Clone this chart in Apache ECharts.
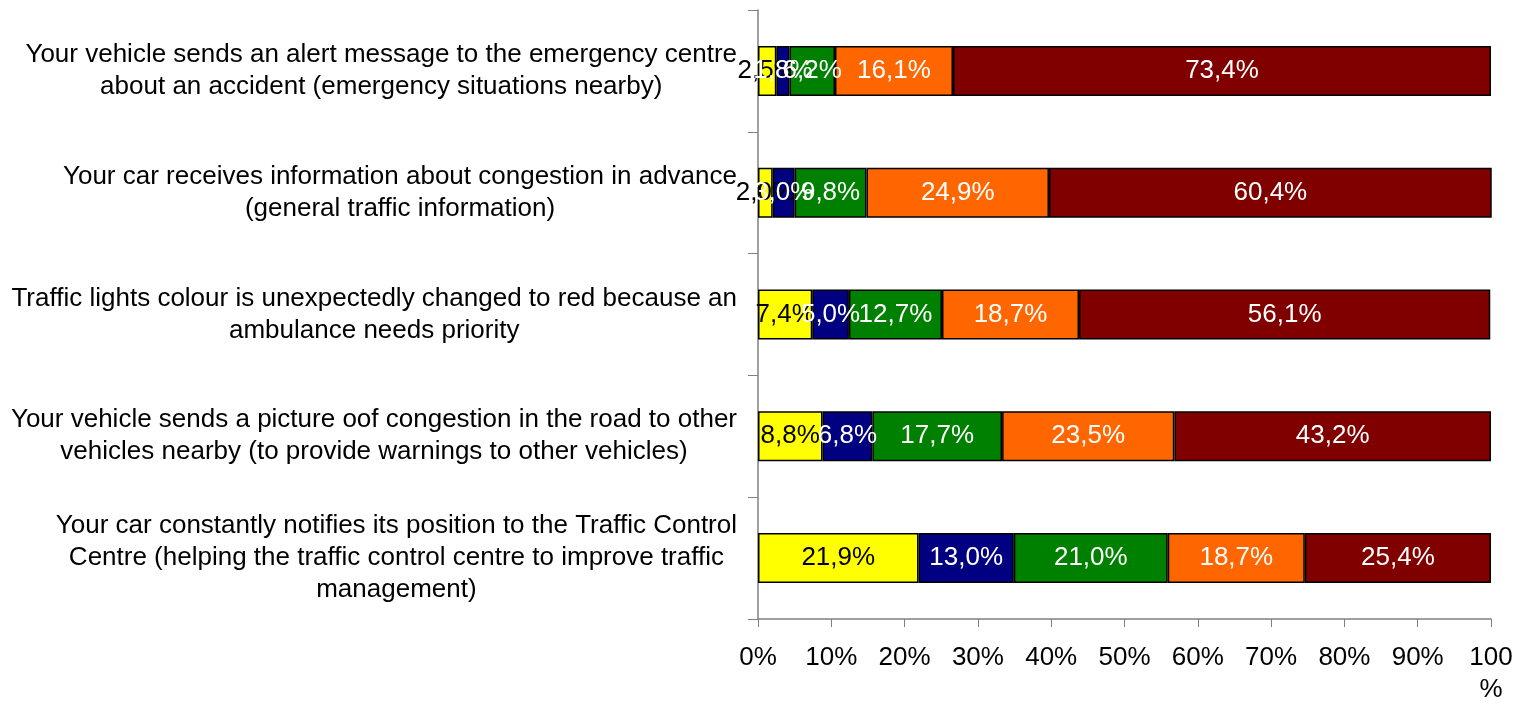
<!DOCTYPE html>
<html>
<head>
<meta charset="utf-8">
<script src="https://cdn.jsdelivr.net/npm/echarts@6/dist/echarts.min.js"></script>
<style>
  html, body { margin: 0; padding: 0; background: #fff; }
  #chart { width: 1517px; height: 706px; }
</style>
</head>
<body>
<div id="chart"></div>
<script>
// categories (top to bottom)
var categories = [
    'Your vehicle sends an alert message to the emergency centre\nabout an accident (emergency situations nearby)',
    'Your car receives information about congestion in advance\n(general traffic information)',
    'Traffic lights colour is unexpectedly changed to red because an\nambulance needs priority',
    'Your vehicle sends a picture oof congestion in the road to other\nvehicles nearby (to provide warnings to other vehicles)',
    'Your car constantly notifies its position to the Traffic Control\nCentre (helping the traffic control centre to improve traffic\nmanagement)'
];
// share of answers per category, in %
var yellowVals = [2.5, 2.0, 7.4, 8.8, 21.9];
var blueVals   = [1.8, 3.0, 5.0, 6.8, 13.0];
var greenVals  = [6.2, 9.8, 12.7, 17.7, 21.0];
var orangeVals = [16.1, 24.9, 18.7, 23.5, 18.7];
var redVals    = [73.4, 60.4, 56.1, 43.2, 25.4];
var xTicks = [0, 10, 20, 30, 40, 50, 60, 70, 80, 90, 100];

var font = 'Liberation Sans, Arial, sans-serif';

function pct(p) {
    return p.value.toFixed(1).replace('.', ',') + '%';
}

function mkSeries(name, data, color, labelColor) {
    return {
        name: name,
        type: 'bar',
        stack: 'total',
        barWidth: 50,
        data: data,
        itemStyle: { color: color, borderColor: '#000', borderWidth: 1.5 },
        label: {
            show: true,
            position: 'inside',
            color: labelColor,
            fontSize: 26,
            fontFamily: font,
            formatter: pct
        }
    };
}

var chart = echarts.init(document.getElementById('chart'));
chart.setOption({
    animation: false,
    backgroundColor: '#fff',
    grid: { left: 758, right: 26, top: 10, bottom: 84 },
    xAxis: {
        type: 'value',
        min: xTicks[0],
        max: xTicks[xTicks.length - 1],
        interval: 10,
        splitLine: { show: false },
        axisLine: { show: true, lineStyle: { color: '#808080', width: 1.5 } },
        axisTick: { show: true, length: 8, lineStyle: { color: '#808080' } },
        axisLabel: {
            color: '#000',
            fontSize: 26,
            fontFamily: font,
            margin: 23,
            lineHeight: 32,
            formatter: function (v) {
                return v === 100 ? '100\n%' : v + '%';
            }
        }
    },
    yAxis: {
        type: 'category',
        inverse: true,
        data: categories,
        axisLine: { show: true, lineStyle: { color: '#808080', width: 1.5 } },
        axisTick: { show: true, length: 10, lineStyle: { color: '#808080' } },
        axisLabel: {
            margin: 21,
            formatter: function (v) {
                return v.split('\n').map(function (l) { return '{c|' + l + '}'; }).join('\n');
            },
            rich: {
                c: {
                    align: 'center',
                    color: '#000',
                    fontSize: 26,
                    fontFamily: font,
                    lineHeight: 32
                }
            }
        }
    },
    series: [
        mkSeries('yellow', yellowVals, '#FFFF00', '#000'),
        mkSeries('blue', blueVals, '#000080', '#fff'),
        mkSeries('green', greenVals, '#008000', '#fff'),
        mkSeries('orange', orangeVals, '#FF6600', '#fff'),
        mkSeries('red', redVals, '#800000', '#fff')
    ]
});
</script>
</body>
</html>
